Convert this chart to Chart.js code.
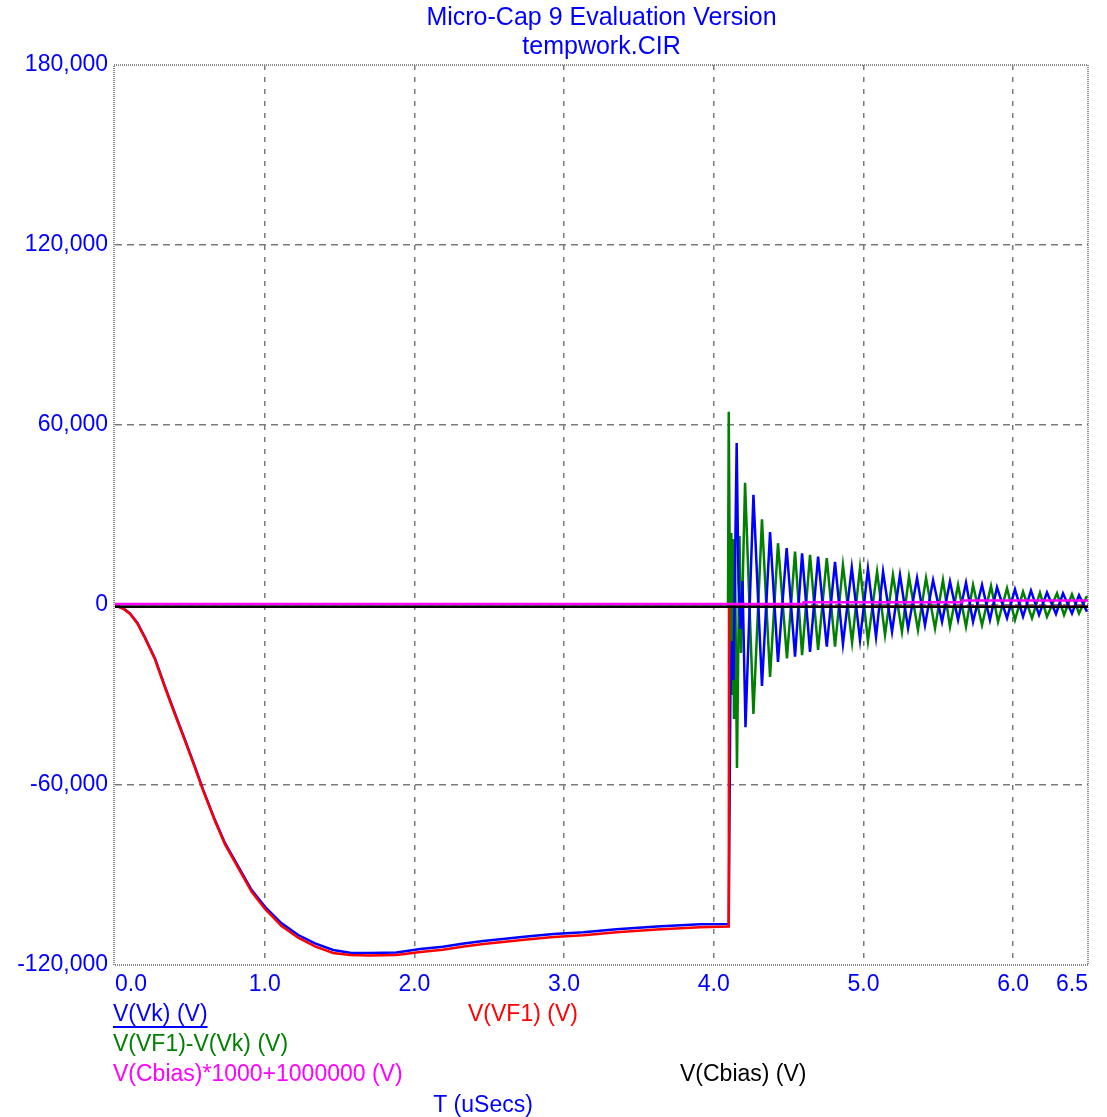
<!DOCTYPE html>
<html lang="es">
<head>
<meta charset="utf-8">
<title>tempwork.CIR</title>
<script src="https://cdn.jsdelivr.net/npm/chart.js@4.4.1/dist/chart.umd.min.js"></script>
<style>
  html, body { margin: 0; padding: 0; background: #fff; }
  #contenedor { width: 1107px; height: 1117px; }
</style>
</head>
<body>
<div id="contenedor"><canvas id="transitorio" width="1107" height="1117"></canvas></div>
<script>
// Marcas de los ejes
const ticksT = [0, 1, 2, 3, 4, 5, 6, 6.5];
const ticksV = [-120000, -60000, 0, 60000, 120000, 180000];

// V(Vk) y V(VF1) antes del disparo (uSecs, V)
const tPrincipal = [0, 0.022, 0.06, 0.10, 0.15, 0.20, 0.267, 0.334, 0.40, 0.468, 0.534, 0.59, 0.668, 0.735, 0.824,
  0.913, 1.002, 1.113, 1.224, 1.336, 1.457, 1.57, 1.70, 1.88, 2.04, 2.19, 2.33, 2.46, 2.59, 2.75, 2.93, 3.13, 3.35,
  3.62, 3.91, 4.10];
const vk = [0, -500, -1300, -2800, -6000, -10800, -17800, -27200, -36100, -45000, -53900, -61700, -71700, -79400,
  -87200, -95000, -100600, -106100, -110000, -112800, -115000, -115900, -116000, -115800, -114700, -113900, -112800,
  -112000, -111300, -110500, -109700, -109100, -108100, -107200, -106400, -106300];
const vf1 = [0, -500, -1400, -2900, -6200, -11000, -18100, -27500, -36400, -45300, -54200, -62000, -72000, -79800,
  -87700, -95600, -101300, -107000, -110900, -113800, -116000, -116700, -116800, -116700, -115700, -114900, -113800,
  -113000, -112300, -111500, -110700, -110100, -109100, -108200, -107400, -107200];

// V(Vk) despues del disparo
const tVkOscila = [4.111, 4.122, 4.132, 4.153, 4.165, 4.179, 4.192, 4.212, 4.265, 4.322, 4.376, 4.429, 4.487,
  4.543, 4.590, 4.643, 4.697, 4.755, 4.810, 4.863, 4.922, 4.977, 5.030, 5.084, 5.131, 5.191, 5.244, 5.298, 5.358,
  5.411, 5.465, 5.525, 5.578, 5.632, 5.685, 5.732, 5.792, 5.845, 5.892, 5.959, 6.012, 6.066, 6.119, 6.173, 6.226,
  6.286, 6.333, 6.393, 6.440, 6.493];
const vkOscila = [-29300, -12000, -25000, 54000, 8000, -8000, 8000, -40700, 36700, -27000, 24300, -19000, 19000,
  -17200, 17200, -15600, 16100, -13900, 14400, -13000, 12500, -11700, 12100, -10600, 11100, -8900, 10000, -7800, 9000,
  -6700, 8300, -5600, 7800, -5000, 7400, -5600, 6700, -5000, 5900, -4400, 5200, -3900, 4800, -3300, 4200,
  -3000, 3900, -2800, 3300, -2200];

// V(VF1)-V(Vk)
const tDif = [0, 4.095, 4.100, 4.106, 4.111, 4.117, 4.123, 4.129, 4.135, 4.141, 4.155, 4.172, 4.182, 4.209, 4.265,
  4.322, 4.376, 4.429, 4.489, 4.543, 4.590, 4.643, 4.697, 4.755, 4.810, 4.863, 4.924, 4.977, 5.030, 5.091, 5.144,
  5.197, 5.257, 5.304, 5.364, 5.418, 5.478, 5.531, 5.578, 5.632, 5.685, 5.732, 5.792, 5.852, 5.899, 5.959, 6.012,
  6.066, 6.126, 6.179, 6.226, 6.293, 6.340, 6.393, 6.440, 6.493];
const dif = [-600, -600, 64400, 18000, -20000, 24000, -30000, 22000, -38000, 18000, -54300, 23000, -16000, 40700, -36300,
  28600, -24000, 20600, -17800, 17800, -16700, 16700, -15000, 15600, -13900, 13300, -12500, 12500, -12000, 11100, -10000,
  10000, -8900, 9400, -8300, 9000, -7800, 8300, -7200, 6700, -7200, 6700, -6700, 6300, -5600, 5600, -5000,
  4400, -4400, 4100, -3900, 3900, -3300, 3600, -2800, 3000];

// V(VF1) tras el salto
const tVf1Cola = [4.102, 6.5];
const vf1Cola = [-600, -600];

// V(Cbias) y V(Cbias)*1000+1000000
const tCbias = [0, 6.5];
const cbias = [-600, -600];
const tCbiasEsc = [0, 4.60, 4.60, 5.66, 5.66, 6.5];
const cbiasEsc = [300, 300, 900, 900, 1500, 1500];

const azul = "#0000ff";
const fuente = { family: "'Liberation Sans', Arial, sans-serif", size: 23 };
const fuenteCss = "23px 'Liberation Sans', Arial, sans-serif";
const fuenteTitulo = "25px 'Liberation Sans', Arial, sans-serif";

const puntos = (ts, vs) => ts.map((t, i) => ({ x: t, y: vs[i] }));

// Titulo, leyenda y nombre del eje
const textos = {
  id: "textos",
  afterDraw(chart) {
    const { ctx, chartArea: a } = chart;
    const cx = (a.left + a.right) / 2;
    ctx.save();
    ctx.textBaseline = "middle";

    ctx.fillStyle = azul;
    ctx.textAlign = "center";
    ctx.font = fuenteTitulo;
    ctx.fillText("Micro-Cap 9 Evaluation Version", cx, 18);
    ctx.fillText("tempwork.CIR", cx, 47);
    ctx.font = fuenteCss;
    ctx.fillText("T (uSecs)", 483, a.bottom + 141);

    ctx.textAlign = "left";
    const etiquetas = [
      ["V(Vk) (V)", azul, 113, 50],
      ["V(VF1) (V)", "#ff0000", 468, 50],
      ["V(VF1)-V(Vk) (V)", "#008000", 113, 80],
      ["V(Cbias)*1000+1000000 (V)", "#ff00ff", 113, 110],
      ["V(Cbias) (V)", "#000000", 680, 110],
    ];
    etiquetas.forEach(([txt, color, x, dy]) => {
      ctx.fillStyle = color;
      ctx.fillText(txt, x, a.bottom + dy);
    });

    // subrayado de la traza activa
    const ancho = ctx.measureText("V(Vk) (V)").width;
    ctx.strokeStyle = azul;
    ctx.lineWidth = 2;
    ctx.beginPath();
    ctx.moveTo(113, a.bottom + 62);
    ctx.lineTo(113 + ancho, a.bottom + 62);
    ctx.stroke();
    ctx.restore();
  },
};

// Marco punteado del area de trazado
const marco = {
  id: "marco",
  beforeDatasetsDraw(chart) {
    const { ctx, chartArea: a } = chart;
    ctx.save();
    ctx.strokeStyle = "#8c8c8c";
    ctx.lineWidth = 2;
    ctx.setLineDash([1, 1]);
    ctx.strokeRect(a.left - 1, a.top, a.right - a.left + 1, a.bottom - a.top);
    ctx.restore();
  },
};

const rejilla = (extremos) => (c) =>
  c.tick && extremos.includes(c.tick.value) ? "rgba(0,0,0,0)" : "#7a7a7a";

new Chart(document.getElementById("transitorio"), {
  type: "line",
  data: {
    datasets: [
      { label: "V(Cbias)*1000+1000000 (V)", data: puntos(tCbiasEsc, cbiasEsc), borderColor: "#ff00ff", order: 0 },
      { label: "V(Cbias) (V)", data: puntos(tCbias, cbias), borderColor: "#000000", order: 1 },
      { label: "V(VF1) (V)", data: puntos(tPrincipal.concat(tVf1Cola), vf1.concat(vf1Cola)), borderColor: "#ff0000", order: 2 },
      { label: "V(Vk) (V)", data: puntos(tPrincipal.concat(tVkOscila), vk.concat(vkOscila)), borderColor: azul, order: 3 },
      { label: "V(VF1)-V(Vk) (V)", data: puntos(tDif, dif), borderColor: "#008000", order: 4 },
    ],
  },
  options: {
    responsive: false,
    animation: false,
    layout: { padding: { top: 65, right: 19, left: 0, bottom: 0 } },
    plugins: { legend: { display: false }, tooltip: { enabled: false }, title: { display: false } },
    elements: {
      point: { radius: 0 },
      line: { tension: 0, borderWidth: 2.5, fill: false },
    },
    scales: {
      x: {
        type: "linear",
        min: 0,
        max: 6.5,
        afterBuildTicks: (eje) => { eje.ticks = ticksT.map((v) => ({ value: v })); },
        afterFit: (eje) => { eje.height = 152; },
        ticks: {
          color: azul,
          font: fuente,
          padding: 6,
          align: "inner",
          autoSkip: false,
          maxRotation: 0,
          callback: (v) => Number(v).toFixed(1),
        },
        grid: { color: rejilla([0, 6.5]), lineWidth: 1.5, drawTicks: false },
        border: { display: false, dash: [5, 7] },
      },
      y: {
        min: -120000,
        max: 180000,
        afterBuildTicks: (eje) => { eje.ticks = ticksV.map((v) => ({ value: v })); },
        afterFit: (eje) => { eje.width = 115; },
        ticks: {
          color: azul,
          font: fuente,
          padding: 7,
          autoSkip: false,
          callback: (v) => Number(v).toLocaleString("en-US"),
        },
        grid: { color: rejilla([-120000, 180000]), lineWidth: 1.5, drawTicks: false },
        border: { display: false, dash: [7, 5] },
      },
    },
  },
  plugins: [marco, textos],
});
</script>
</body>
</html>
